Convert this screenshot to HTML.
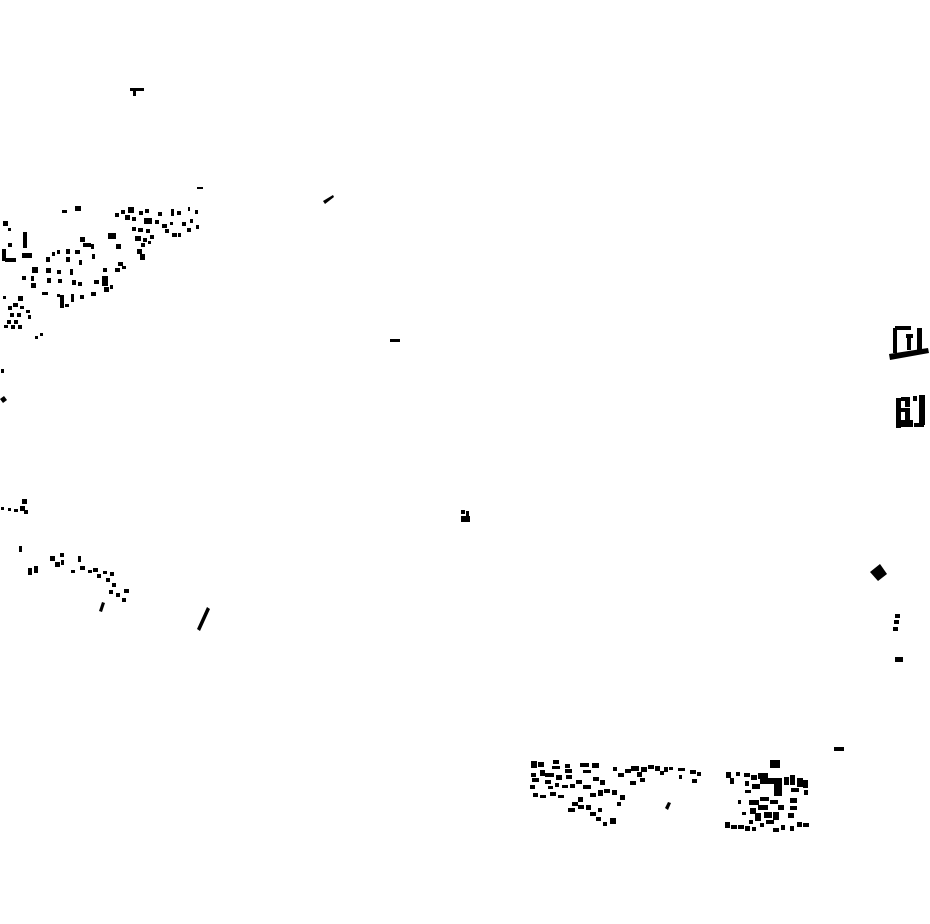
<!DOCTYPE html><html><head><style>html,body{margin:0;background:#fff}svg{display:block}</style></head><body>
<svg width="930" height="924" viewBox="0 0 930 924" xmlns="http://www.w3.org/2000/svg"><g fill="#000">
<rect x="130" y="88" width="14" height="3"/><rect x="133" y="88" width="3" height="8"/>
<rect x="197" y="187" width="6" height="2"/>
<polygon points="323,201 333,195 334,197 325,204"/>
<rect x="390" y="339" width="10" height="3"/>
<rect x="461" y="510" width="4" height="4"/><rect x="461" y="516" width="9" height="6"/><rect x="466" y="511" width="3" height="8"/>
<polygon points="197,629 207,607 210,609 200,631"/>
<rect x="62" y="210" width="5" height="3"/><rect x="75" y="206" width="6" height="5"/>
<rect x="3" y="221" width="5" height="5"/><rect x="8" y="228" width="3" height="3"/>
<rect x="23" y="232" width="4" height="16"/><rect x="22" y="253" width="10" height="5"/>
<rect x="8" y="243" width="4" height="4"/><rect x="2" y="249" width="4" height="12"/><rect x="5" y="258" width="11" height="4"/>
<rect x="108" y="233" width="8" height="6"/><rect x="116" y="244" width="5" height="5"/>
<rect x="80" y="237" width="5" height="5"/><rect x="83" y="243" width="8" height="4"/>
<rect x="46" y="257" width="4" height="5"/><rect x="52" y="252" width="3" height="4"/><rect x="57" y="250" width="3" height="4"/>
<rect x="66" y="249" width="4" height="5"/><rect x="66" y="257" width="4" height="5"/><rect x="75" y="250" width="5" height="4"/>
<rect x="79" y="260" width="3" height="5"/><rect x="91" y="244" width="3" height="5"/><rect x="92" y="254" width="3" height="5"/>
<rect x="32" y="267" width="6" height="6"/><rect x="22" y="276" width="4" height="4"/><rect x="31" y="276" width="3" height="5"/>
<rect x="31" y="283" width="5" height="5"/><rect x="46" y="268" width="5" height="5"/><rect x="47" y="278" width="4" height="5"/>
<rect x="57" y="270" width="4" height="4"/><rect x="58" y="279" width="4" height="4"/><rect x="70" y="269" width="3" height="6"/>
<rect x="72" y="280" width="4" height="5"/><rect x="78" y="282" width="4" height="4"/><rect x="42" y="292" width="6" height="3"/>
<rect x="57" y="294" width="3" height="3"/><rect x="60" y="295" width="4" height="13"/><rect x="65" y="304" width="4" height="3"/>
<rect x="71" y="294" width="3" height="8"/><rect x="80" y="295" width="4" height="4"/><rect x="91" y="292" width="5" height="4"/>
<rect x="102" y="276" width="6" height="10"/><rect x="94" y="280" width="5" height="4"/><rect x="104" y="287" width="5" height="5"/>
<rect x="110" y="285" width="3" height="4"/><rect x="103" y="268" width="4" height="4"/><rect x="115" y="268" width="5" height="4"/>
<rect x="118" y="262" width="5" height="4"/><rect x="122" y="266" width="4" height="3"/>
<rect x="115" y="213" width="4" height="4"/><rect x="121" y="210" width="4" height="4"/><rect x="128" y="207" width="6" height="6"/>
<rect x="125" y="215" width="5" height="5"/><rect x="132" y="217" width="4" height="4"/><rect x="139" y="211" width="4" height="4"/>
<rect x="145" y="209" width="4" height="4"/><rect x="144" y="218" width="8" height="6"/><rect x="132" y="227" width="4" height="4"/>
<rect x="138" y="228" width="5" height="4"/><rect x="146" y="229" width="4" height="4"/><rect x="135" y="236" width="6" height="5"/>
<rect x="143" y="238" width="4" height="4"/><rect x="150" y="235" width="4" height="4"/><rect x="137" y="249" width="5" height="5"/>
<rect x="141" y="243" width="4" height="4"/><rect x="148" y="241" width="3" height="3"/><rect x="140" y="254" width="5" height="6"/>
<rect x="158" y="212" width="4" height="4"/><rect x="155" y="220" width="4" height="4"/><rect x="162" y="224" width="5" height="4"/>
<rect x="165" y="229" width="4" height="4"/><rect x="170" y="222" width="3" height="3"/><rect x="172" y="233" width="5" height="4"/>
<rect x="178" y="233" width="3" height="4"/><rect x="171" y="209" width="3" height="7"/><rect x="177" y="211" width="4" height="4"/>
<rect x="182" y="222" width="4" height="4"/><rect x="188" y="207" width="2" height="4"/><rect x="195" y="210" width="3" height="4"/>
<rect x="190" y="219" width="3" height="4"/><rect x="196" y="225" width="3" height="4"/><rect x="187" y="228" width="4" height="4"/>
<rect x="3" y="296" width="3" height="3"/><rect x="18" y="296" width="5" height="5"/><rect x="8" y="306" width="4" height="4"/>
<rect x="13" y="303" width="5" height="4"/><rect x="20" y="306" width="4" height="3"/><rect x="26" y="310" width="4" height="3"/>
<rect x="10" y="313" width="4" height="4"/><rect x="17" y="313" width="4" height="4"/><rect x="28" y="315" width="3" height="4"/>
<rect x="7" y="320" width="4" height="4"/><rect x="14" y="320" width="4" height="4"/><rect x="4" y="325" width="4" height="3"/>
<rect x="11" y="325" width="4" height="4"/><rect x="18" y="325" width="4" height="4"/><rect x="35" y="336" width="3" height="3"/><rect x="40" y="333" width="3" height="3"/>
<rect x="1" y="369" width="3" height="4"/><polygon points="0,399 4,396 7,400 3,403"/>
<rect x="1" y="507" width="3" height="3"/><rect x="8" y="508" width="3" height="3"/><rect x="14" y="509" width="4" height="3"/>
<rect x="20" y="506" width="5" height="5"/><rect x="22" y="499" width="5" height="5"/><rect x="24" y="510" width="4" height="4"/>
<rect x="19" y="546" width="3" height="6"/><rect x="28" y="568" width="4" height="7"/><rect x="34" y="566" width="4" height="7"/>
<rect x="50" y="556" width="5" height="5"/><rect x="55" y="562" width="5" height="5"/><rect x="60" y="553" width="4" height="4"/>
<rect x="61" y="560" width="3" height="5"/><rect x="78" y="556" width="3" height="6"/><rect x="71" y="570" width="4" height="3"/>
<rect x="80" y="566" width="5" height="4"/><rect x="88" y="570" width="4" height="3"/><rect x="93" y="568" width="5" height="4"/>
<rect x="97" y="574" width="4" height="4"/><rect x="103" y="571" width="4" height="3"/><rect x="106" y="578" width="4" height="4"/>
<rect x="110" y="572" width="4" height="4"/><rect x="112" y="583" width="4" height="4"/><rect x="109" y="590" width="4" height="4"/>
<rect x="116" y="593" width="4" height="4"/><rect x="124" y="589" width="5" height="4"/><rect x="122" y="598" width="4" height="4"/>
<polygon points="99,611 102,602 105,603 102,612"/>
<!-- right side buildings -->
<rect x="893" y="328" width="4" height="25"/><rect x="895" y="326" width="16" height="4"/><rect x="917" y="328" width="5" height="24"/>
<rect x="906" y="334" width="7" height="4"/><rect x="907" y="338" width="4" height="12"/>
<polygon points="889,354 928,348 929,353 890,360"/>
<rect x="896" y="398" width="5" height="30"/><rect x="901" y="397" width="9" height="4"/><rect x="905" y="401" width="5" height="6"/>
<rect x="901" y="408" width="9" height="4"/><rect x="905" y="412" width="5" height="8"/><rect x="899" y="420" width="14" height="7"/>
<rect x="913" y="396" width="4" height="5"/><rect x="919" y="395" width="6" height="30"/><rect x="914" y="423" width="10" height="4"/>
<polygon points="870,572 880,564 887,574 878,581"/>
<rect x="895" y="614" width="5" height="4"/><rect x="894" y="620" width="5" height="4"/><rect x="893" y="627" width="5" height="4"/>
<rect x="895" y="657" width="8" height="5"/>
<rect x="834" y="747" width="10" height="4"/>
<rect x="531" y="761" width="6" height="7"/><rect x="538" y="762" width="6" height="5"/><rect x="553" y="760" width="6" height="4"/>
<rect x="552" y="766" width="8" height="3"/><rect x="565" y="764" width="5" height="4"/><rect x="565" y="769" width="7" height="4"/>
<rect x="580" y="763" width="9" height="4"/><rect x="592" y="763" width="7" height="5"/><rect x="583" y="770" width="8" height="3"/>
<rect x="531" y="773" width="5" height="4"/><rect x="532" y="778" width="7" height="4"/><rect x="530" y="785" width="5" height="4"/>
<rect x="540" y="770" width="5" height="6"/><rect x="545" y="780" width="6" height="4"/><rect x="548" y="786" width="5" height="3"/>
<rect x="545" y="773" width="9" height="4"/><rect x="556" y="775" width="6" height="5"/><rect x="566" y="775" width="6" height="4"/>
<rect x="555" y="783" width="4" height="4"/><rect x="562" y="785" width="6" height="3"/><rect x="570" y="784" width="5" height="4"/>
<rect x="533" y="793" width="5" height="4"/><rect x="540" y="795" width="6" height="3"/><rect x="550" y="792" width="6" height="4"/>
<rect x="558" y="795" width="6" height="3"/><rect x="576" y="780" width="6" height="4"/><rect x="583" y="785" width="8" height="4"/>
<rect x="593" y="777" width="6" height="4"/><rect x="600" y="780" width="5" height="5"/><rect x="590" y="793" width="6" height="4"/>
<rect x="598" y="790" width="5" height="6"/><rect x="604" y="789" width="6" height="4"/><rect x="578" y="797" width="5" height="5"/>
<rect x="572" y="802" width="6" height="4"/><rect x="578" y="805" width="6" height="4"/><rect x="568" y="808" width="7" height="4"/>
<rect x="586" y="805" width="5" height="5"/><rect x="590" y="812" width="6" height="4"/><rect x="596" y="817" width="5" height="4"/>
<rect x="603" y="822" width="4" height="4"/><rect x="610" y="818" width="6" height="6"/><rect x="598" y="808" width="4" height="4"/>
<rect x="613" y="767" width="4" height="4"/><rect x="618" y="773" width="6" height="4"/><rect x="625" y="769" width="6" height="4"/>
<rect x="631" y="766" width="8" height="5"/><rect x="637" y="772" width="5" height="5"/><rect x="641" y="767" width="6" height="5"/>
<rect x="648" y="765" width="6" height="4"/><rect x="655" y="766" width="5" height="5"/><rect x="660" y="771" width="4" height="4"/>
<rect x="664" y="767" width="4" height="5"/><rect x="669" y="767" width="4" height="3"/><rect x="678" y="768" width="7" height="3"/>
<rect x="690" y="770" width="6" height="4"/><rect x="697" y="772" width="4" height="4"/><rect x="692" y="779" width="5" height="4"/>
<rect x="679" y="775" width="3" height="4"/><rect x="640" y="778" width="5" height="4"/><rect x="630" y="781" width="6" height="4"/>
<rect x="612" y="790" width="5" height="5"/><rect x="620" y="795" width="5" height="5"/><rect x="617" y="802" width="4" height="4"/>
<polygon points="665,808 668,802 671,803 668,810"/>
<rect x="770" y="760" width="10" height="8"/>
<rect x="726" y="772" width="5" height="6"/><rect x="730" y="778" width="4" height="6"/><rect x="736" y="772" width="4" height="4"/>
<rect x="744" y="773" width="6" height="4"/><rect x="751" y="775" width="6" height="5"/><rect x="758" y="773" width="10" height="6"/>
<rect x="760" y="778" width="20" height="6"/><rect x="774" y="778" width="8" height="18"/><rect x="752" y="784" width="8" height="5"/>
<rect x="745" y="781" width="4" height="5"/><rect x="745" y="790" width="6" height="3"/><rect x="784" y="777" width="5" height="8"/>
<rect x="790" y="775" width="5" height="10"/><rect x="797" y="778" width="6" height="9"/><rect x="803" y="780" width="5" height="8"/>
<rect x="791" y="788" width="8" height="4"/><rect x="804" y="790" width="4" height="5"/>
<rect x="749" y="800" width="10" height="5"/><rect x="760" y="797" width="9" height="4"/><rect x="770" y="800" width="8" height="4"/>
<rect x="778" y="805" width="6" height="5"/><rect x="790" y="798" width="7" height="5"/><rect x="790" y="806" width="7" height="4"/>
<rect x="788" y="813" width="6" height="5"/><rect x="742" y="812" width="4" height="3"/><rect x="750" y="808" width="6" height="6"/>
<rect x="758" y="805" width="10" height="5"/><rect x="755" y="813" width="6" height="8"/><rect x="764" y="812" width="8" height="6"/>
<rect x="773" y="812" width="6" height="8"/><rect x="766" y="820" width="8" height="4"/><rect x="749" y="820" width="4" height="4"/>
<rect x="760" y="823" width="4" height="4"/><rect x="725" y="822" width="5" height="6"/><rect x="731" y="825" width="6" height="4"/>
<rect x="738" y="825" width="6" height="4"/><rect x="745" y="826" width="5" height="5"/><rect x="752" y="827" width="4" height="4"/>
<rect x="773" y="828" width="6" height="4"/><rect x="781" y="825" width="4" height="5"/><rect x="790" y="826" width="4" height="5"/>
<rect x="797" y="822" width="5" height="5"/><rect x="803" y="823" width="6" height="4"/><rect x="738" y="800" width="3" height="4"/>
</g></svg></body></html>
